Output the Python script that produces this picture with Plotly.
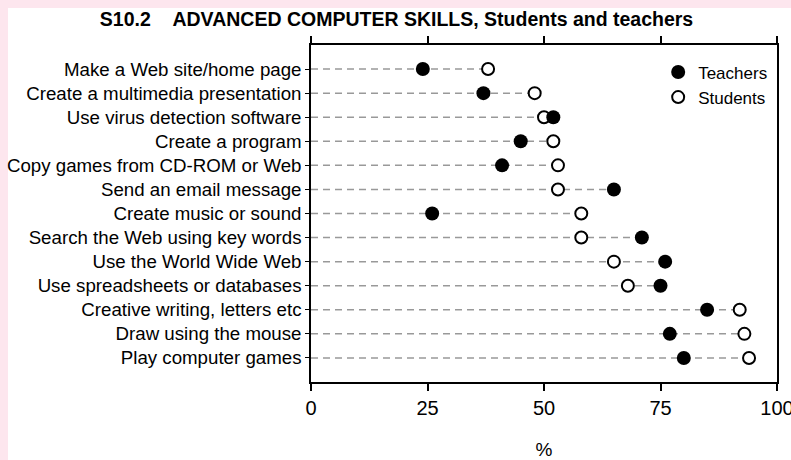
import plotly.graph_objects as go

categories = [
    "Make a Web site/home page",
    "Create a multimedia presentation",
    "Use virus detection software",
    "Create a program",
    "Copy games from CD-ROM or Web",
    "Send an email message",
    "Create music or sound",
    "Search the Web using key words",
    "Use the World Wide Web",
    "Use spreadsheets or databases",
    "Creative writing, letters etc",
    "Draw using the mouse",
    "Play computer games",
]
teachers = [24, 37, 52, 45, 41, 65, 26, 71, 76, 75, 85, 77, 80]
students = [38, 48, 50, 52, 53, 53, 58, 58, 65, 68, 92, 93, 94]
x_ticks = [0, 25, 50, 75, 100]
title_text = "S10.2\u00a0\u00a0\u00a0\u00a0ADVANCED COMPUTER SKILLS, Students and teachers"

FONT = "Liberation Sans, Arial, sans-serif"
PINK = "#fde6ee"
rows = list(range(len(categories)))

# dashed guide lines from 0 to the larger value of each row
gx, gy = [], []
for i, (t, s) in enumerate(zip(teachers, students)):
    gx += [0, max(t, s), None]
    gy += [i, i, None]

fig = go.Figure()
fig.add_trace(go.Scatter(
    x=gx, y=gy, mode="lines", showlegend=False, hoverinfo="skip",
    line=dict(color="#999999", width=1.5, dash="7px,5px"),
))
fig.add_trace(go.Scatter(
    x=students, y=rows, mode="markers", name="Students", legendrank=2,
    marker=dict(symbol="circle", size=12, color="white",
                line=dict(color="black", width=2)),
))
fig.add_trace(go.Scatter(
    x=teachers, y=rows, mode="markers", name="Teachers", legendrank=1,
    marker=dict(symbol="circle", size=14, color="black",
                line=dict(color="black", width=0)),
))

W, H = 791, 460
L, R, T, B = 311, 14, 45, 78
PW, PH = W - L - R, H - T - B

fig.update_layout(
    width=W, height=H,
    margin=dict(l=L, r=R, t=T, b=B),
    paper_bgcolor=PINK,
    plot_bgcolor="white",
    font=dict(family=FONT, size=17, color="black"),
    title=dict(text=title_text, x=396.5 / W, xref="container", xanchor="center",
               y=(H - 19) / H, yanchor="middle", yref="container",
               font=dict(family=FONT, size=19.5, color="black", weight="bold")),
    showlegend=True,
    legend=dict(x=0.745, y=0.972, xanchor="left", yanchor="top",
                bgcolor="rgba(0,0,0,0)", font=dict(size=17),
                itemwidth=30, tracegroupgap=0),
    # white panel leaving a thin pink border at the top and left
    shapes=[dict(type="rect", xref="paper", yref="paper",
                 x0=(8 - L) / PW, x1=2, y0=-1, y1=(H - B - 8) / PH,
                 fillcolor="white", line=dict(width=0), layer="below")],
    xaxis=dict(range=[0, 100], tickvals=x_ticks, ticktext=[str(v) for v in x_ticks],
               showgrid=False, zeroline=False, showline=True, linecolor="black",
               linewidth=1.5, mirror="ticks", ticks="outside", ticklen=7,
               tickwidth=1.5, tickcolor="black", automargin=False,
               ticklabeloverflow="allow",
               tickfont=dict(family=FONT, size=20),
               title=dict(text="%", font=dict(family=FONT, size=19), standoff=30)),
    yaxis=dict(range=[len(categories), -1], tickvals=rows, ticktext=categories,
               showgrid=False, zeroline=False, showline=True, linecolor="black",
               linewidth=1.5, mirror=True, ticks="outside", ticklen=4,
               tickwidth=1, tickcolor="black", automargin=False,
               ticklabeloverflow="allow",
               tickfont=dict(family=FONT, size=18.7)),
)

fig.write_html(
    "out.html",
    config={"displayModeBar": False},
    post_script=(
        "document.body.style.margin='0';"
        "document.documentElement.style.overflow='hidden';"
    ),
)
